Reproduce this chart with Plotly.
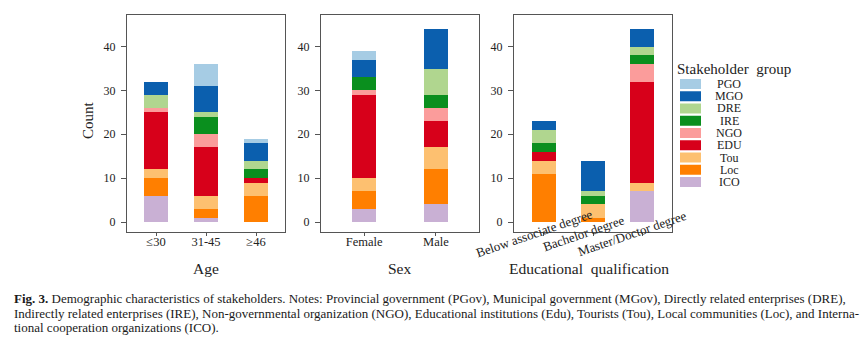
import plotly.graph_objects as go

groups = ["PGO", "MGO", "DRE", "IRE", "NGO", "EDU", "Tou", "Loc", "ICO"]
colors = ["#a6cce4", "#0b5fae", "#b0d68f", "#0a8f1e", "#fb9c9b", "#d7001a", "#fdc070", "#ff7f00", "#c9b0d4"]

age_cats = ["≤30", "31-45", "≥46"]
sex_cats = ["Female", "Male"]
edu_cats = ["Below associate degree", "Bachelor degree", "Master/Doctor degree"]

age_counts = {
    "PGO": [0, 5, 1], "MGO": [3, 6, 4], "DRE": [3, 1, 2], "IRE": [0, 4, 2],
    "NGO": [1, 3, 0], "EDU": [13, 11, 1], "Tou": [2, 3, 3], "Loc": [4, 2, 6], "ICO": [6, 1, 0],
}
sex_counts = {
    "PGO": [2, 0], "MGO": [4, 9], "DRE": [0, 6], "IRE": [3, 3],
    "NGO": [1, 3], "EDU": [19, 6], "Tou": [3, 5], "Loc": [4, 8], "ICO": [3, 4],
}
edu_counts = {
    "PGO": [0, 0, 0], "MGO": [2, 7, 4], "DRE": [3, 1, 2], "IRE": [2, 2, 2],
    "NGO": [0, 0, 4], "EDU": [2, 0, 23], "Tou": [3, 3, 2], "Loc": [11, 1, 0], "ICO": [0, 0, 7],
}

panel_titles = ["Age", "Sex", "Educational  qualification"]
caption_lines = [
    "<b>Fig. 3.</b> Demographic characteristics of stakeholders. Notes: Provincial government (PGov), Municipal government (MGov), Directly related enterprises (DRE),",
    "Indirectly related enterprises (IRE), Non-governmental organization (NGO), Educational institutions (Edu), Tourists (Tou), Local communities (Loc), and Interna-",
    "tional cooperation organizations (ICO).",
]

W, H = 864, 340
FONT = "Liberation Serif"
TXT = "#222222"

def px(x):
    return x / W

def py(y):
    return 1 - y / H

panels = [
    (age_cats, age_counts, "x", "y", 0.48),
    (sex_cats, sex_counts, "x2", "y2", 0.33),
    (edu_cats, edu_counts, "x3", "y3", 0.49),
]

fig = go.Figure()
stack_order = list(reversed(range(len(groups))))  # ICO at bottom, PGO on top
for cats, counts, xa, ya, bw in panels:
    for gi in stack_order:
        g = groups[gi]
        fig.add_trace(go.Bar(
            x=cats, y=counts[g], name=g, xaxis=xa, yaxis=ya,
            marker=dict(color=colors[gi], line=dict(width=0)),
            width=bw, showlegend=False, hoverinfo="x+y+name",
        ))

domains = [(127, 285), (321, 479), (514, 672)]
xranges = [[-0.58, 2.58], [-0.6, 1.6], [-0.61, 2.61]]
ydom = [py(232), py(15)]
yrange = [-2.28, 47.2]

axis_common = dict(showline=True, mirror=True, linecolor="#555555", linewidth=1.3,
                   ticks="outside", tickcolor="#555555", showgrid=False, zeroline=False)

layout = dict(
    width=W, height=H, margin=dict(l=0, r=0, t=0, b=0),
    paper_bgcolor="white", plot_bgcolor="white", barmode="stack",
    font=dict(family=FONT, color=TXT),
)
for i, ((l, r), (cats, _, xa, ya, _bw)) in enumerate(zip(domains, panels)):
    sfx = "" if i == 0 else str(i + 1)
    layout["xaxis" + sfx] = dict(
        axis_common, domain=[px(l), px(r)], anchor="y" + sfx,
        range=xranges[i], ticklen=3, ticklabelstandoff=-5,
        tickfont=dict(size=12.5, family=FONT, color=TXT),
        showticklabels=(i < 2), type="category",
    )
    layout["yaxis" + sfx] = dict(
        axis_common, domain=ydom, anchor="x" + sfx, range=yrange, ticklen=5,
        ticklabelstandoff=3,
        tickvals=[0, 10, 20, 30, 40], tickfont=dict(size=12, family=FONT, color=TXT),
    )
fig.update_layout(**layout)

def note(text, x, y, size, xanchor="center", **kw):
    return dict(x=px(x), y=py(y), xref="paper", yref="paper", text=text, showarrow=False,
                xanchor=xanchor, yanchor="middle", font=dict(size=size, family=FONT, color=TXT), **kw)

ann = []
# rotated education tick labels
for c in edu_cats:
    ann.append(dict(x=c, xref="x3", y=py(233), yref="paper", text=c, showarrow=False,
                    xanchor="center", yanchor="middle",
                    textangle=-19, xshift=-10, font=dict(size=13, family=FONT, color=TXT)))
# panel titles
title_x = [206, 400, 589]
for t, xx in zip(panel_titles, title_x):
    ann.append(note(t, xx, 268, 15.5))
ann.append(note("Count", 88, 120, 15, textangle=-90))
# custom legend
ann.append(note("Stakeholder  group", 675, 69, 15, xanchor="left"))
shapes = []
for i, g in enumerate(groups):
    yc = 84 + 12.25 * i
    shapes.append(dict(type="rect", xref="paper", yref="paper", x0=px(680), x1=px(701),
                       y0=py(yc + 5), y1=py(yc - 5), fillcolor=colors[i], line=dict(width=0)))
    ann.append(note(g, 729, yc, 12))
# caption
for line, yy in zip(caption_lines, [298, 313, 327]):
    a = note(line, 12, yy, 13, xanchor="left")
    a["font"]["color"] = "#1a1a1a"
    ann.append(a)

fig.update_layout(annotations=ann, shapes=shapes)
fig.write_html("out.html")
